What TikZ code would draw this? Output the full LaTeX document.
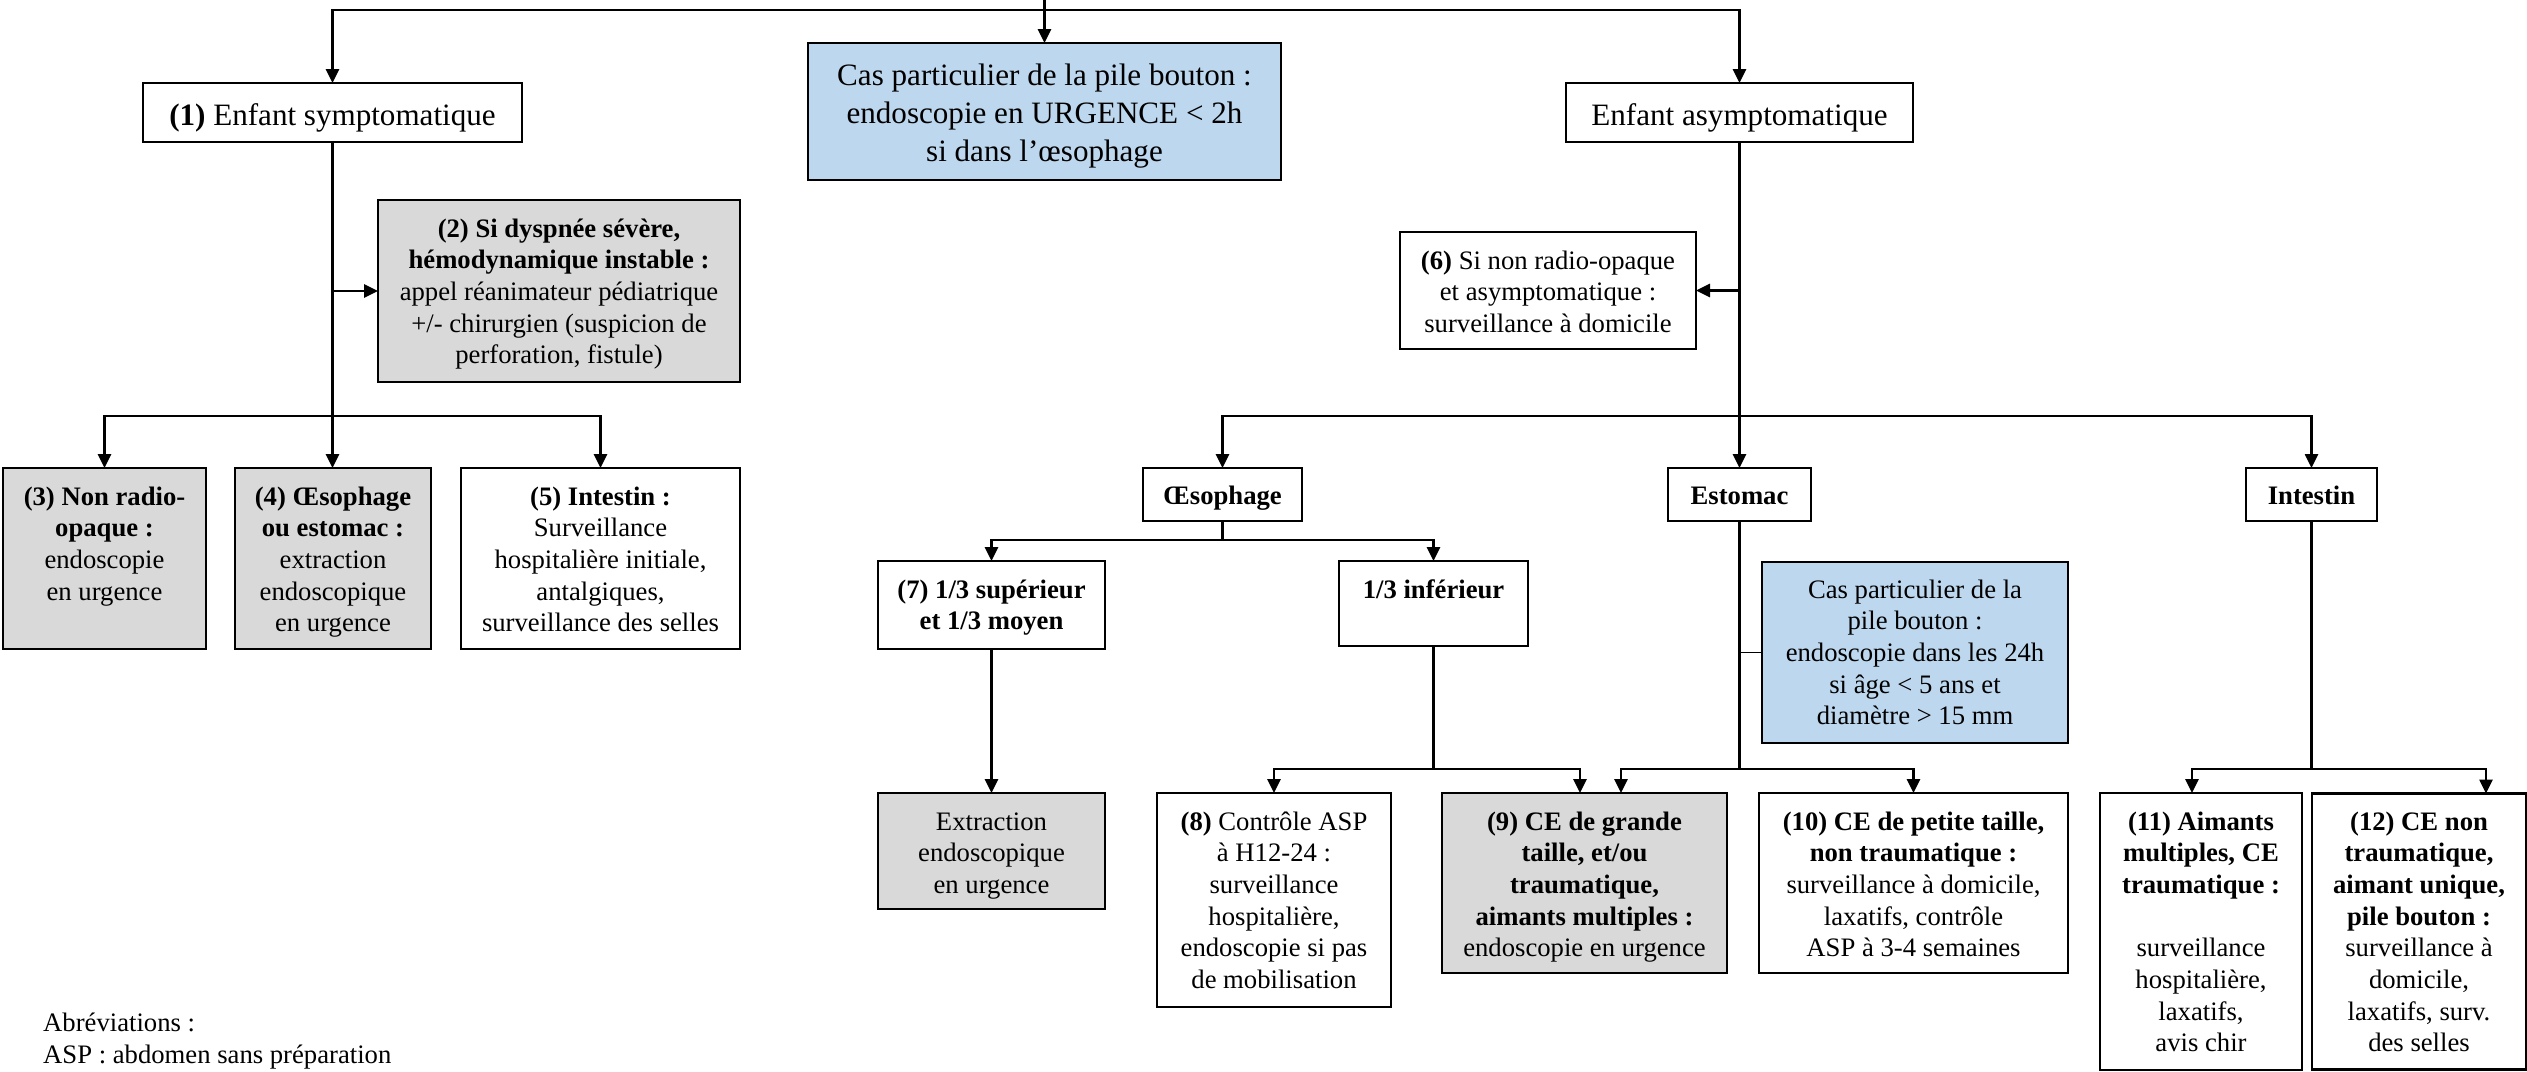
\documentclass[tikz,border=0pt]{standalone}
\usepackage{fontspec}
\setmainfont{Liberation Serif}
\usetikzlibrary{arrows.meta}
\definecolor{grayf}{RGB}{217,217,217}
\definecolor{bluef}{RGB}{189,215,238}
\newcommand\fsN{\fontsize{26.67}{31.7}\selectfont}
\newcommand\fsL{\fontsize{31.1}{38}\selectfont}
\tikzset{
  box/.style={draw=black, line width=2.2pt, fill=white, rectangle, inner sep=0pt, outer sep=0pt},
  gbox/.style={box, fill=grayf},
  bbox/.style={box, fill=bluef},
  txt/.style={anchor=base, align=center, inner sep=0pt, font=\fsN},
  txtL/.style={anchor=base, align=center, inner sep=0pt, font=\fsL},
  conn/.style={draw=black, line width=2.7pt},
  arr/.style={conn, -{Triangle[length=14pt, width=13pt]}},
  thinconn/.style={draw=black, line width=1.2pt}
}
\begin{document}
\begin{tikzpicture}[x=1pt,y=-1pt]
\useasboundingbox (0,0) rectangle (2527,1071);

% boxes
\node[box, minimum width=379pt, minimum height=59pt] (b1) at (332.5,112.5) {};
\node[bbox, minimum width=473pt, minimum height=137pt] (pile1) at (1044.5,111.5) {};
\node[box, minimum width=347pt, minimum height=59pt] (asym) at (1739.5,112.5) {};
\node[gbox, minimum width=362pt, minimum height=182pt] (b2) at (559,291) {};
\node[box, minimum width=296pt, minimum height=117pt] (b6) at (1548,290.5) {};
\node[gbox, minimum width=203pt, minimum height=181pt] (b3) at (104.5,558.5) {};
\node[gbox, minimum width=196pt, minimum height=181pt] (b4) at (333,558.5) {};
\node[box, minimum width=279pt, minimum height=181pt] (b5) at (600.5,558.5) {};
\node[box, minimum width=159pt, minimum height=53pt] (oeso) at (1222.5,494.5) {};
\node[box, minimum width=143pt, minimum height=53pt] (esto) at (1739.5,494.5) {};
\node[box, minimum width=131pt, minimum height=53pt] (intes) at (2311.5,494.5) {};
\node[box, minimum width=227pt, minimum height=88pt] (b7) at (991.5,605) {};
\node[box, minimum width=189pt, minimum height=85pt] (inf) at (1433.5,603.5) {};
\node[bbox, minimum width=306pt, minimum height=181pt] (pile2) at (1915,652.5) {};
\node[gbox, minimum width=227pt, minimum height=116pt] (extr) at (991.5,851) {};
\node[box, minimum width=234pt, minimum height=214pt] (b8) at (1274,900) {};
\node[gbox, minimum width=285pt, minimum height=180pt] (b9) at (1584.5,883) {};
\node[box, minimum width=309pt, minimum height=180pt] (b10) at (1913.5,883) {};
\node[box, minimum width=202pt, minimum height=277pt] (b11) at (2201,931.5) {};
\node[box, minimum width=214pt, minimum height=276pt] (b12) at (2419,931.5) {};

% connectors
\coordinate (top) at (1044.5,0);
\coordinate (jt) at (1044.5,10);
\draw[conn] (top) -- (jt);
\draw[arr] (jt) -- (pile1);
\draw[arr] (jt) -| (b1);
\draw[arr] (jt) -| (asym);

\coordinate (jl) at (332.5,416);
\draw[conn] (b1) -- (jl);
\draw[arr] (b1.south |- b2.west) -- (b2);
\draw[arr] (jl) -| (b3);
\draw[arr] (jl) -- (jl |- b4.north);
\draw[arr] (jl) -| (b5);

\coordinate (jr) at (1739.5,416);
\draw[conn] (asym) -- (jr);
\draw[arr] (asym.south |- b6.east) -- (b6);
\draw[arr] (jr) -| (oeso);
\draw[arr] (jr) -- (esto);
\draw[arr] (jr) -| (intes);

\coordinate (jo) at (1222.5,540);
\draw[conn] (oeso) -- (jo);
\draw[arr] (jo) -| (b7);
\draw[arr] (jo) -| (inf);
\draw[arr] (b7) -- (extr);

\coordinate (ji) at (1433.5,769);
\draw[conn] (inf) -- (ji);
\draw[arr] (ji) -| (b8);
\draw[arr] (ji) -| ([xshift=-4.5pt]b9.north);

\coordinate (je) at (1739.5,769);
\draw[conn] (esto) -- (je);
\draw[arr] (je) -| ([xshift=36.5pt]b9.north);
\draw[arr] (je) -| (b10);
\draw[thinconn] (esto.south |- pile2.west) -- (pile2);

\coordinate (jn) at (2311.5,769);
\draw[conn] (intes) -- (jn);
\draw[arr] (jn) -| ([xshift=-9pt]b11.north);
\draw[arr] (jn) -| ([xshift=67pt]b12.north);

% texts (anchor = baseline of last line)
\node[txtL] (t1) at (332.5,125) {\textbf{(1)} Enfant symptomatique};
\node[txtL] (tp1) at (1044.5,161) {Cas particulier de la pile bouton :\\endoscopie en URGENCE < 2h\\si dans l’œsophage};
\node[txtL] (tasym) at (1739.5,125) {Enfant asymptomatique};
\node[txt] (t2) at (559,363.8) {\textbf{(2) Si dyspnée sévère,}\\\textbf{hémodynamique instable :}\\appel réanimateur pédiatrique\\+/- chirurgien (suspicion de\\perforation, fistule)};
\node[txt] (t6) at (1548,332.4) {\textbf{(6)} Si non radio-opaque\\et asymptomatique :\\surveillance à domicile};
\node[txt] (t3) at (104.5,600.1) {\textbf{(3) Non radio-}\\\textbf{opaque :}\\endoscopie\\en urgence};
\node[txt] (t4) at (333,631.8) {\textbf{(4) Œsophage}\\\textbf{ou estomac :}\\extraction\\endoscopique\\en urgence};
\node[txt] (t5) at (600.5,631.8) {\textbf{(5) Intestin :}\\Surveillance\\hospitalière initiale,\\antalgiques,\\surveillance des selles};
\node[txt] (toeso) at (1222.5,504) {\textbf{Œsophage}};
\node[txt] (testo) at (1739.5,504) {\textbf{Estomac}};
\node[txt] (tintes) at (2311.5,504) {\textbf{Intestin}};
\node[txt] (t7) at (991.5,629.7) {\textbf{(7) 1/3 supérieur}\\\textbf{et 1/3 moyen}};
\node[txt] (tinf) at (1433.5,598) {\textbf{1/3 inférieur}};
\node[txt] (tp2) at (1915,724.8) {Cas particulier de la\\pile bouton :\\endoscopie dans les 24h\\si âge < 5 ans et\\diamètre > 15 mm};
\node[txt] (textr) at (991.5,893.4) {Extraction\\endoscopique\\en urgence};
\node[txt] (t8) at (1274,988.5) {\textbf{(8)} Contrôle ASP\\à H12-24 :\\surveillance\\hospitalière,\\endoscopie si pas\\de mobilisation};
\node[txt] (t9) at (1584.5,956.8) {\textbf{(9) CE de grande}\\\textbf{taille, et/ou}\\\textbf{traumatique,}\\\textbf{aimants multiples :}\\endoscopie en urgence};
\node[txt] (t10) at (1913.5,956.8) {\textbf{(10) CE de petite taille,}\\\textbf{non traumatique :}\\surveillance à domicile,\\laxatifs, contrôle\\ASP à 3-4 semaines};
\node[txt] (t11) at (2201,1051.9) {\textbf{(11) Aimants}\\\textbf{multiples, CE}\\\textbf{traumatique :}\\[31.7pt]surveillance\\hospitalière,\\laxatifs,\\avis chir};
\node[txt] (t12) at (2419,1051.9) {\textbf{(12) CE non}\\\textbf{traumatique,}\\\textbf{aimant unique,}\\\textbf{pile bouton :}\\surveillance à\\domicile,\\laxatifs, surv.\\des selles};
\node[txt, anchor=base west, align=left] (abbr) at (43,1063) {Abréviations :\\ASP : abdomen sans préparation};
\end{tikzpicture}
\end{document}
